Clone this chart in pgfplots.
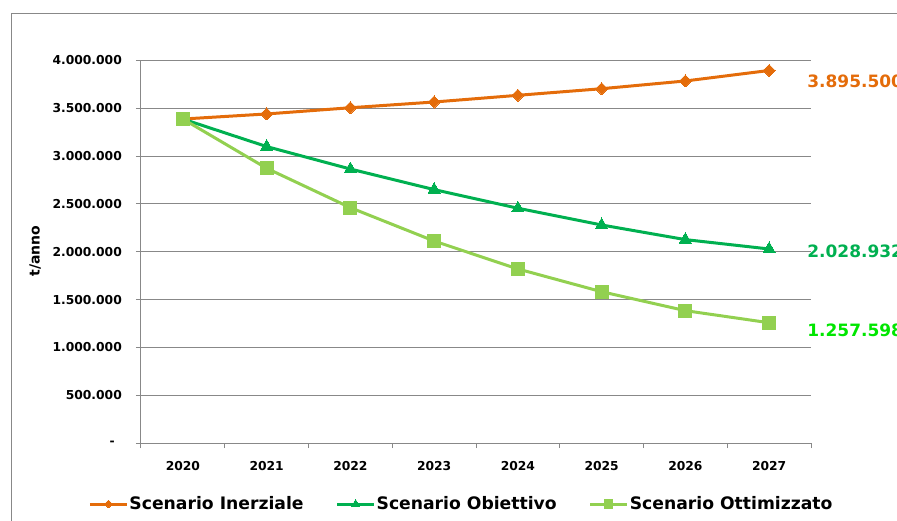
\documentclass[border=0pt]{standalone}
\usepackage{pgfplots}
\pgfplotsset{compat=1.18}
\usepackage{fontspec}
\setmainfont{DejaVu Sans}
\definecolor{cInerz}{HTML}{E46C0A}
\definecolor{cObj}{HTML}{00B050}
\definecolor{cOtt}{HTML}{92D050}
\definecolor{cOttLab}{HTML}{00E600}
\definecolor{cGrid}{HTML}{888888}
\begin{document}
\begin{tikzpicture}
\draw[cGrid, line width=1pt] (11pt,-600pt) -- (11pt,-14pt) -- (1000pt,-14pt);
\begin{axis}[
  at={(141pt,-443pt)}, anchor=south west,
  scale only axis, width=670pt, height=382.5pt,
  xmin=-0.5, xmax=7.5, ymin=0, ymax=4000000,
  clip=false,
  axis x line*=bottom, axis y line*=left,
  axis line style={cGrid, line width=1pt},
  ymajorgrids=true,
  grid style={cGrid, line width=1pt},
  tick align=outside,
  major tick length=5pt, minor tick length=5pt,
  tick style={cGrid, line width=1pt},
  xtick={0,1,2,3,4,5,6,7},
  xticklabels={2020,2021,2022,2023,2024,2025,2026,2027},
  major x tick style={draw=none},
  minor xtick={-0.5,0.5,1.5,2.5,3.5,4.5,5.5,6.5,7.5},
  ytick={0,500000,1000000,1500000,2000000,2500000,3000000,3500000,4000000},
  yticklabels={{-\hspace*{7pt}},500.000,1.000.000,1.500.000,2.000.000,2.500.000,3.000.000,3.500.000,4.000.000},
  scaled y ticks=false,
  ticklabel style={font=\fontsize{12.3}{14}\selectfont\bfseries, text=black},
  yticklabel style={anchor=east, inner sep=0pt, xshift=-14pt},
  xticklabel style={anchor=north, inner sep=0pt, yshift=-13pt},
  ylabel={t/anno},
  ylabel style={at={(axis description cs:-0.158,0.502)}, anchor=center, font=\fontsize{14}{16}\selectfont\bfseries},
  legend columns=3,
  legend style={at={(0.4776,-0.1595)}, anchor=center, draw=none, fill=none,
    font=\fontsize{17.2}{19}\selectfont\bfseries,
    nodes={inner sep=1pt},
    /tikz/every even column/.append style={column sep=31pt}},
  legend image code/.code={\draw[mark repeat=2,mark phase=2,/tikz/every mark/.append style={scale=0.65},#1] plot coordinates {(0pt,0pt) (18.5pt,0pt) (37pt,0pt)};},
]
\addplot[cInerz, line width=3pt, mark=square*, mark size=4.25pt, mark options={rotate=45, fill=cInerz, draw=cInerz, line width=0pt}]
  coordinates {(0,3388000) (1,3441000) (2,3506000) (3,3566000) (4,3636000) (5,3705000) (6,3786000) (7,3895500)};
\addlegendentry{Scenario Inerziale}
\addplot[cObj, line width=3pt, mark=triangle*, mark size=7pt, mark options={fill=cObj, draw=cObj, line width=0pt}]
  coordinates {(0,3388000) (1,3100000) (2,2865000) (3,2650000) (4,2455000) (5,2280000) (6,2127000) (7,2028932)};
\addlegendentry{Scenario Obiettivo}
\addplot[cOtt, line width=3pt, mark=square*, mark size=6.5pt, mark options={fill=cOtt, draw=cOtt, line width=0pt}]
  coordinates {(0,3388000) (1,2873000) (2,2461000) (3,2112000) (4,1820000) (5,1582000) (6,1384000) (7,1257598)};
\addlegendentry{Scenario Ottimizzato}
\node[anchor=west, inner sep=0pt, text=cInerz, font=\fontsize{17}{19}\selectfont\bfseries] at (axis cs:7,3895500) [xshift=38pt, yshift=-11pt] {3.895.500};
\node[anchor=west, inner sep=0pt, text=cObj, font=\fontsize{17}{19}\selectfont\bfseries] at (axis cs:7,2028932) [xshift=38pt, yshift=-2pt] {2.028.932};
\node[anchor=west, inner sep=0pt, text=cOttLab, font=\fontsize{17}{19}\selectfont\bfseries] at (axis cs:7,1257598) [xshift=38pt, yshift=-8pt] {1.257.598};
\end{axis}
\pgfresetboundingbox
\path (0pt,0pt) rectangle (897pt,-521pt);
\end{tikzpicture}
\end{document}
